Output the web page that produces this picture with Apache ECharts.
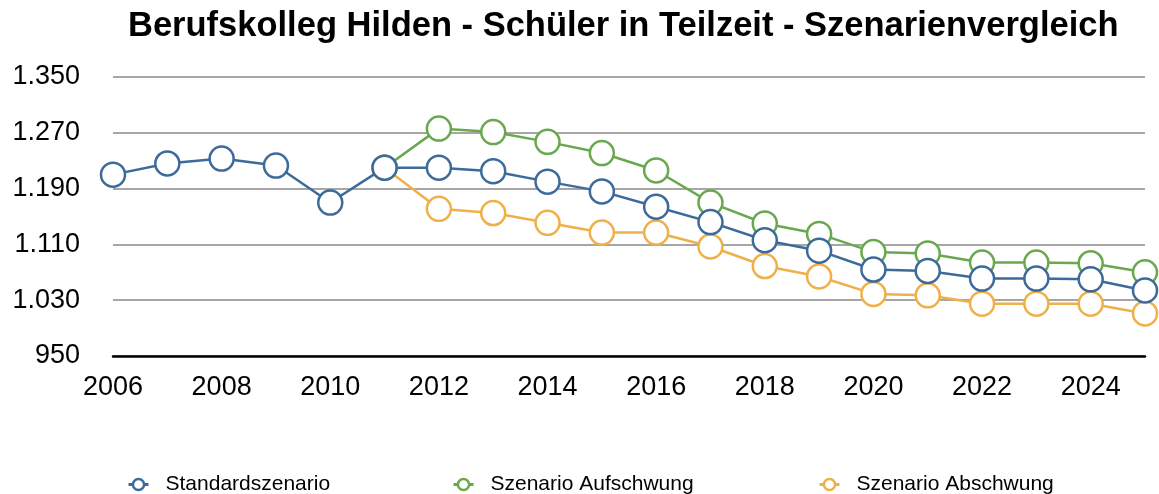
<!DOCTYPE html>
<html>
<head>
<meta charset="utf-8">
<script src="https://cdn.jsdelivr.net/npm/echarts@6/dist/echarts.min.js"></script>
<style>
  html, body { margin: 0; padding: 0; background: #fff; }
  #main { width: 1159px; height: 494px; }
</style>
</head>
<body>
<div id="main"></div>
<script>
var years = ['2006','2007','2008','2009','2010','2011','2012','2013','2014','2015',
             '2016','2017','2018','2019','2020','2021','2022','2023','2024','2025'];
var standard = [1210, 1226, 1233, 1223, 1170, 1220, 1220, 1215, 1200, 1186,
                1164, 1142, 1116, 1101, 1074, 1072, 1061, 1061, 1060, 1044];
var aufschwung = [null, null, null, null, null, 1220, 1276, 1271, 1257, 1241,
                  1216, 1170, 1140, 1125, 1099, 1097, 1084, 1084, 1083, 1070];
var abschwung = [null, null, null, null, null, 1220, 1161, 1155, 1141, 1127,
                 1127, 1107, 1079, 1064, 1039, 1037, 1025, 1025, 1025, 1011];

var font = '"Liberation Sans", Arial, Helvetica, sans-serif';

function line(name, data, color, z) {
  return {
    name: name,
    type: 'line',
    data: data,
    z: z,
    symbol: 'circle',
    symbolSize: 24,
    lineStyle: { color: color, width: 2.5 },
    itemStyle: { color: '#fff', borderColor: color, borderWidth: 2.5 },
    emphasis: { disabled: true }
  };
}

function legendAt(name, left) {
  return {
    data: [name],
    left: left,
    top: 474,
    padding: 0,
    itemWidth: 20,
    itemHeight: 14,
    itemStyle: { borderWidth: 2.5 },
    lineStyle: { width: 3 },
    textStyle: { fontFamily: font, fontSize: 21, color: '#000', padding: [0, 0, 0, 12] }
  };
}

var chart = echarts.init(document.getElementById('main'));
chart.setOption({
  animation: false,
  title: {
    text: 'Berufskolleg Hilden - Schüler in Teilzeit - Szenarienvergleich',
    left: 128,
    top: 4,
    padding: [5, 0],
    textStyle: { fontFamily: font, fontSize: 34.5, fontWeight: 'bold', color: '#000' }
  },
  legend: [
    legendAt('Standardszenario', 127),
    legendAt('Szenario Aufschwung', 452),
    legendAt('Szenario Abschwung', 818)
  ],
  grid: { left: 113, right: 14, top: 77, bottom: 138 },
  xAxis: {
    type: 'category',
    data: years,
    boundaryGap: false,
    axisLine: { lineStyle: { color: '#000', width: 2.5 } },
    axisTick: { show: false },
    axisLabel: {
      interval: 1,
      margin: 18,
      fontFamily: font,
      fontSize: 27,
      color: '#000'
    }
  },
  yAxis: {
    type: 'value',
    min: 950,
    max: 1350,
    interval: 80,
    axisLine: { show: false },
    axisTick: { show: false },
    splitLine: { lineStyle: { color: '#a6a6a6', width: 2 } },
    axisLabel: {
      margin: 33,
      fontFamily: font,
      fontSize: 27,
      color: '#000',
      formatter: function (v) {
        var s = String(v);
        return s.length > 3 ? s.slice(0, s.length - 3) + '.' + s.slice(-3) : s;
      }
    }
  },
  series: [
    line('Szenario Abschwung', abschwung, '#f0b048', 3),
    line('Szenario Aufschwung', aufschwung, '#6aa84f', 4),
    line('Standardszenario', standard, '#3c6a9a', 5)
  ]
});
</script>
</body>
</html>
